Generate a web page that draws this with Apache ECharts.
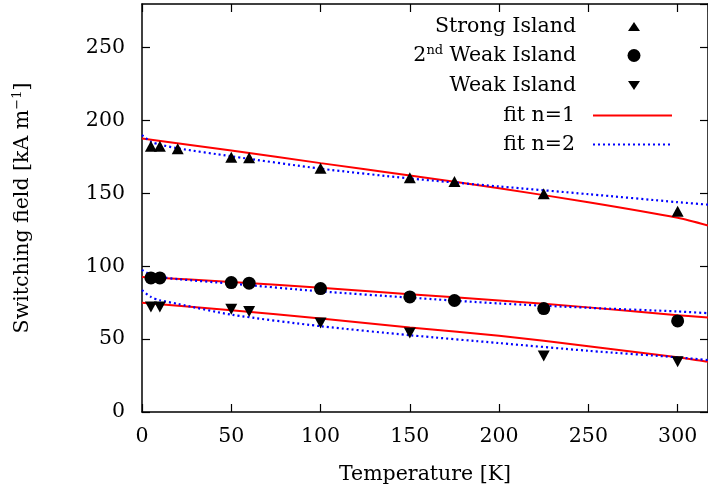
<!DOCTYPE html>
<html>
<head>
<meta charset="utf-8">
<script src="https://cdn.jsdelivr.net/npm/echarts@6/dist/echarts.min.js"></script>
<style>
html,body{margin:0;padding:0;background:#fff;}
#main{width:708px;height:501px;}
</style>
</head>
<body>
<div id="main"></div>
<script>
// ---- data ----
const strongT = [5, 10, 20, 50, 60, 100, 150, 175, 225, 300];
const strongH = [182.4, 182.4, 180.6, 174.9, 174.4, 167.3, 160.7, 158.2, 149.8, 137.7];

const weak2T = [5, 10, 50, 60, 100, 150, 175, 225, 300];
const weak2H = [92, 92, 88.8, 88.4, 84.7, 79, 76.5, 71, 62.5];

const weakT = [5, 10, 50, 60, 100, 150, 225, 300];
const weakH = [72, 72, 70.5, 69, 61, 54.3, 38.4, 34.5];

// fit curves
const fit1T = [0, 50, 100, 150, 200, 250, 300, 317];
const fit1Strong = [187.7, 179.5, 170.8, 162.3, 153.5, 144, 133.3, 128];
const fit1Weak2 = [92.7, 89.3, 85.2, 80.8, 76.6, 71.8, 66.4, 64.8];
const fit1Weak = [74.9, 69.9, 64.2, 58, 52.3, 45.2, 37.5, 34.5];

const fit2T = [0, 5, 10, 20, 50, 100, 150, 200, 250, 300, 317];
const fit2Strong = [190, 185.5, 183.5, 181, 175.5, 167, 160.3, 154.8, 149.5, 144, 142.3];
const fit2Weak2 = [97.5, 94, 92.7, 91.2, 88.1, 82.8, 78.5, 74.5, 71.5, 69, 67.8];
const fit2Weak = [83.6, 79, 76.7, 74.2, 66.8, 58.9, 52.7, 47.3, 42, 37.5, 35.6];

const xTicks = [0, 50, 100, 150, 200, 250, 300];
const yTicks = [0, 50, 100, 150, 200, 250];

const zip = (a, b) => a.map((v, i) => [v, b[i]]);

const FONT = 'DejaVu Serif';
const FS = 20.5;
const chart = echarts.init(document.getElementById('main'), null, {renderer: 'canvas'});

const axisLine = {show: true, onZero: false, lineStyle: {color: '#000', width: 1.5}};
const tick = {show: true, inside: true, length: 8, lineStyle: {color: '#000', width: 1.2}};

function fitLine(name, data, color, dashed) {
  return {
    name: name, type: 'line', data: data, smooth: 0.25, symbol: 'none', showSymbol: false,
    xAxisIndex: 0, yAxisIndex: 0, z: 2,
    lineStyle: {color: color, width: dashed ? 2.2 : 2, type: dashed ? [2, 3] : 'solid'},
    itemStyle: {color: color}
  };
}

const richSup = {
  b: {fontFamily: FONT, fontSize: FS, color: '#000'},
  s: {fontFamily: FONT, fontSize: 13, color: '#000', verticalAlign: 'bottom', padding: [0, 0, 10, 0]}
};

// marker legends: small icon centred at x=639, text ending at x=581
function legMarker(top, name, icon, w, h, extra) {
  return Object.assign({
    top: top, right: 708 - 639 - w / 2, orient: 'vertical', align: 'right',
    itemWidth: w, itemHeight: h,
    data: [{name: name, icon: icon}],
    selectedMode: false,
    textStyle: {fontFamily: FONT, fontSize: FS, color: '#000', padding: [0, 639 - w / 2 - 581 - 5, 0, 0], rich: richSup}
  }, extra || {});
}
// line legends: sample from 599 to 678
function legLine(top, name, lineType) {
  return {
    top: top, right: 30, orient: 'vertical', align: 'right',
    itemWidth: 79, itemHeight: 14,
    data: [{name: name}],
    itemStyle: {opacity: 0, borderWidth: 0},
    lineStyle: {width: 2, type: lineType},
    selectedMode: false,
    textStyle: {fontFamily: FONT, fontSize: FS, color: '#000', padding: [0, 13, 0, 0]}
  };
}

const option = {
  animation: false,
  backgroundColor: '#fff',
  grid: {left: 142, right: 0, top: 4, bottom: 89, containLabel: false},
  xAxis: [{
    type: 'value', min: 0, max: 317, interval: 50,
    name: 'Temperature [K]', nameLocation: 'middle', nameGap: 52,
    nameTextStyle: {fontFamily: FONT, fontSize: FS, color: '#000', verticalAlign: 'top'},
    axisLine: axisLine, axisTick: tick, splitLine: {show: false},
    axisLabel: {fontFamily: FONT, fontSize: FS, color: '#000', margin: 14, showMaxLabel: false,
      formatter: v => xTicks.includes(v) ? String(v) : ''}
  }, {
    type: 'value', position: 'top', min: 0, max: 317, interval: 50,
    axisLine: axisLine, axisTick: tick, axisLabel: {show: false}, splitLine: {show: false}
  }],
  yAxis: [{
    type: 'value', min: 0, max: 280, interval: 50,
    name: '{n|Switching field [kA m}{s|−1}{n|]}', nameLocation: 'middle', nameGap: 108,
    nameTextStyle: {fontFamily: FONT, fontSize: FS, color: '#000',
      rich: {n: {fontFamily: FONT, fontSize: FS, color: '#000'},
             s: {fontFamily: FONT, fontSize: 13, color: '#000', verticalAlign: 'bottom', padding: [0, 0, 10, 0]}}},
    axisLine: axisLine, axisTick: tick, splitLine: {show: false},
    axisLabel: {fontFamily: FONT, fontSize: FS, color: '#000', margin: 17, showMaxLabel: false,
      formatter: v => yTicks.includes(v) ? String(v) : ''}
  }, {
    type: 'value', position: 'right', min: 0, max: 280, interval: 50,
    axisLine: axisLine, axisTick: tick, axisLabel: {show: false}, splitLine: {show: false}
  }],
  legend: [
    legMarker(11, 'Strong Island', 'triangle', 12, 9),
    legMarker(39, '2nd Weak Island', 'circle', 13, 13, {formatter: () => '{b|2}{s|nd}{b| Weak Island}'}),
    legMarker(70, 'Weak Island', 'path://M0,0 L12,0 L6,9 Z', 12, 9),
    legLine(100, 'fit n=1', 'solid'),
    legLine(129, 'fit n=2', [2, 3])
  ],
  series: [
    fitLine('fit n=1', zip(fit1T, fit1Strong), '#ff0000', false),
    fitLine('fit n=1', zip(fit1T, fit1Weak2), '#ff0000', false),
    fitLine('fit n=1', zip(fit1T, fit1Weak), '#ff0000', false),
    fitLine('fit n=2', zip(fit2T, fit2Strong), '#0000ff', true),
    fitLine('fit n=2', zip(fit2T, fit2Weak2), '#0000ff', true),
    fitLine('fit n=2', zip(fit2T, fit2Weak), '#0000ff', true),
    {name: 'Strong Island', type: 'scatter', data: zip(strongT, strongH), symbol: 'triangle',
      symbolSize: [12, 11], itemStyle: {color: '#000', opacity: 1}, z: 3},
    {name: '2nd Weak Island', type: 'scatter', data: zip(weak2T, weak2H), symbol: 'circle',
      symbolSize: 13, itemStyle: {color: '#000', opacity: 1}, z: 3},
    {name: 'Weak Island', type: 'scatter', data: zip(weakT, weakH), symbol: 'triangle',
      symbolRotate: 180, symbolSize: [12, 11], itemStyle: {color: '#000', opacity: 1}, z: 3}
  ]
};
chart.setOption(option);
</script>
</body>
</html>
